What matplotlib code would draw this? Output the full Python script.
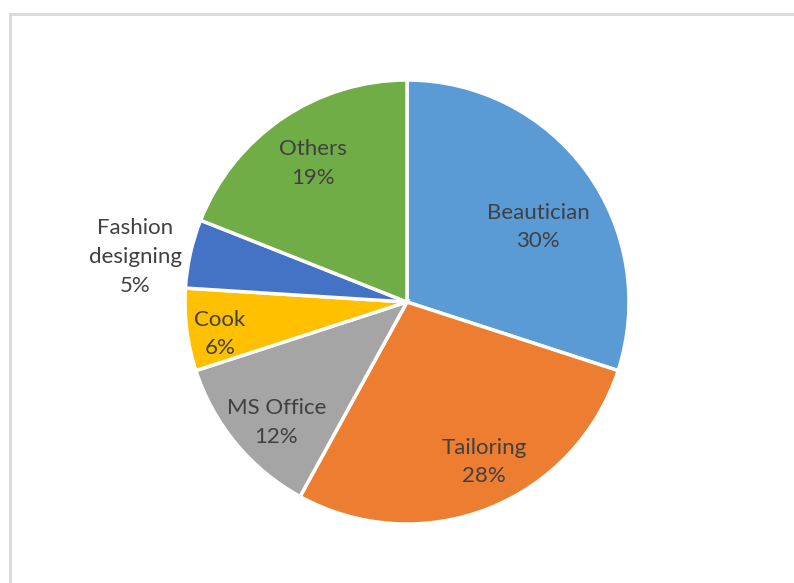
import numpy as np
import matplotlib.pyplot as plt
from matplotlib.lines import Line2D

courses = ["Beautician", "Tailoring", "MS Office", "Cook", "Fashion\ndesigning", "Others"]
shares = [30, 28, 12, 6, 5, 19]
colors = ["#5B9BD5", "#ED7D31", "#A5A5A5", "#FFC000", "#4472C4", "#70AD47"]

# label placement: distance from centre (fraction of radius) and a small
# angular nudge (degrees) away from the wedge's mid angle
label_dist = [0.68, 0.80, 0.80, 0.855, 1.24, 0.756]
label_nudge = [-6.2, 4.1, 3.1, 2.5, 3.2, 0.0]

W, H = 794, 583
fig = plt.figure(figsize=(W / 100, H / 100), dpi=100)

cx, cy, r = 407, 302, 222
ax = fig.add_axes([(cx - r) / W, (H - cy - r) / H, 2 * r / W, 2 * r / H])

wedges, _ = ax.pie(shares, colors=colors, startangle=90, counterclock=False,
                   radius=1.0, wedgeprops=dict(edgecolor="white", linewidth=2.5))
ax.set_xlim(-1, 1)
ax.set_ylim(-1, 1)
ax.set_aspect("equal")
ax.axis("off")

for w, name, val, d, nudge in zip(wedges, courses, shares, label_dist, label_nudge):
    mid = np.deg2rad((w.theta1 + w.theta2) / 2 + nudge)
    ax.text(d * np.cos(mid), d * np.sin(mid), f"{name}\n{val}%",
            ha="center", va="center", color="#404040", fontsize=16,
            family="Lato", linespacing=1.55)

# chart area border (top and left edges only are in view)
fig.add_artist(Line2D([10 / W, 1], [1 - 14 / H, 1 - 14 / H], color="#D9D9D9", lw=2))
fig.add_artist(Line2D([10 / W, 10 / W], [0, 1 - 14 / H], color="#D9D9D9", lw=2))

fig.savefig("out.png", dpi=100, facecolor="white")
